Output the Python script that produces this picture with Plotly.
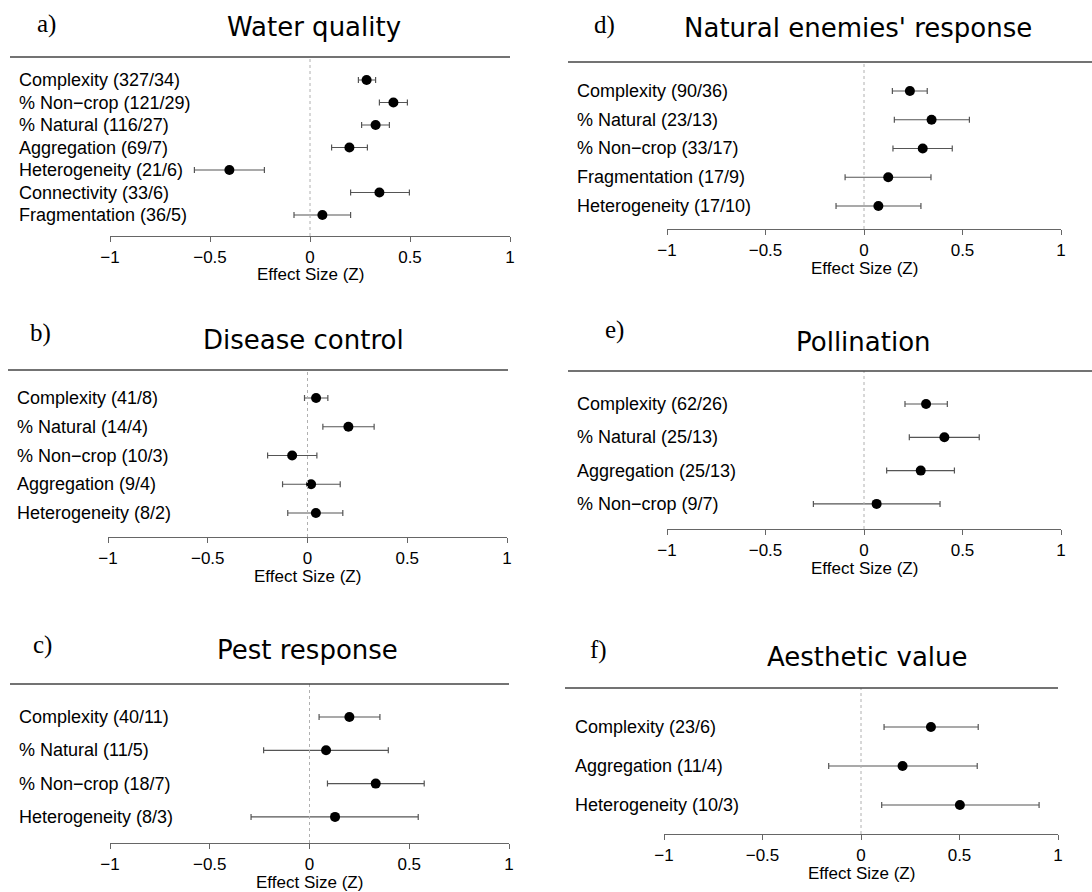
import plotly.graph_objects as go

# ---------------- data ----------------
water_labels = ["Complexity (327/34)", "% Non\u2212crop (121/29)", "% Natural (116/27)",
                "Aggregation (69/7)", "Heterogeneity (21/6)", "Connectivity (33/6)",
                "Fragmentation (36/5)"]
water_est = [0.283, 0.417, 0.328, 0.197, -0.403, 0.347, 0.062]
water_lo = [0.242, 0.347, 0.258, 0.108, -0.578, 0.203, -0.080]
water_hi = [0.328, 0.487, 0.397, 0.287, -0.228, 0.497, 0.203]

disease_labels = ["Complexity (41/8)", "% Natural (14/4)", "% Non\u2212crop (10/3)",
                  "Aggregation (9/4)", "Heterogeneity (8/2)"]
disease_est = [0.043, 0.205, -0.077, 0.018, 0.042]
disease_lo = [-0.015, 0.077, -0.200, -0.125, -0.099]
disease_hi = [0.102, 0.334, 0.047, 0.164, 0.177]

pest_labels = ["Complexity (40/11)", "% Natural (11/5)", "% Non\u2212crop (18/7)",
               "Heterogeneity (8/3)"]
pest_est = [0.200, 0.083, 0.332, 0.128]
pest_lo = [0.048, -0.230, 0.090, -0.293]
pest_hi = [0.353, 0.395, 0.575, 0.545]

enemies_labels = ["Complexity (90/36)", "% Natural (23/13)", "% Non\u2212crop (33/17)",
                  "Fragmentation (17/9)", "Heterogeneity (17/10)"]
enemies_est = [0.233, 0.343, 0.298, 0.123, 0.073]
enemies_lo = [0.144, 0.154, 0.147, -0.096, -0.142]
enemies_hi = [0.321, 0.535, 0.448, 0.340, 0.289]

pollination_labels = ["Complexity (62/26)", "% Natural (25/13)", "Aggregation (25/13)",
                      "% Non\u2212crop (9/7)"]
pollination_est = [0.315, 0.408, 0.288, 0.064]
pollination_lo = [0.208, 0.230, 0.115, -0.257]
pollination_hi = [0.423, 0.585, 0.459, 0.386]

aesthetic_labels = ["Complexity (23/6)", "Aggregation (11/4)", "Heterogeneity (10/3)"]
aesthetic_est = [0.355, 0.211, 0.502]
aesthetic_lo = [0.117, -0.164, 0.105]
aesthetic_hi = [0.595, 0.590, 0.904]

panel_titles = ["Water quality", "Disease control", "Pest response",
                "Natural enemies' response", "Pollination", "Aesthetic value"]
panel_letters = ["a)", "b)", "c)", "d)", "e)", "f)"]
tick_values = [-1, -0.5, 0, 0.5, 1]
tick_labels = ["\u22121", "\u22120.5", "0", "0.5", "1"]
axis_title = "Effect Size (Z)"

# ---------------- layout geometry (pixels) ----------------
W, H = 1092, 892
# xm1, xp1, top line y, axis line y, first row y, row step, line x0, line x1,
# title cx, title cy, letter x, letter cy, label x
geom = [
    (110, 510, 57, 236, 80, 22.5, 10, 510, 314, 27, 35, 24, 17),
    (108, 507, 370, 537, 398, 28.75, 8, 508, 303, 340, 28, 333, 15),
    (110, 509, 684, 843, 717, 33.3, 10, 509, 307, 650, 31, 645, 17),
    (667, 1061, 62, 229, 91, 28.75, 568, 1092, 858, 28, 592, 25, 575),
    (667, 1061, 371, 529, 404, 33.3, 568, 1092, 863, 342, 603, 330, 575),
    (664, 1058, 688, 834, 727, 39.0, 565, 1058, 867, 657, 588, 650, 573),
]

panels = [
    (water_labels, water_est, water_lo, water_hi),
    (disease_labels, disease_est, disease_lo, disease_hi),
    (pest_labels, pest_est, pest_lo, pest_hi),
    (enemies_labels, enemies_est, enemies_lo, enemies_hi),
    (pollination_labels, pollination_est, pollination_lo, pollination_hi),
    (aesthetic_labels, aesthetic_est, aesthetic_lo, aesthetic_hi),
]

LABEL_FONT = dict(family="Liberation Sans, Arial, Helvetica, sans-serif", size=18, color="black")
TICK_FONT = dict(family="Liberation Sans, Arial, Helvetica, sans-serif", size=17, color="black")
TITLE_FONT = dict(family="DejaVu Sans, Verdana, sans-serif", size=26, color="black")
LETTER_FONT = dict(family="Liberation Serif, Times New Roman, serif", size=25, color="black")
AXIS_GREY = "#666666"

fig = go.Figure()
annotations = []
shapes = []

def px_x(p):
    return p / W

def px_y(p):
    return 1 - p / H

for k, ((labels, est, lo, hi), g) in enumerate(zip(panels, geom)):
    xm1, xp1, top, axis, row0, step, lx0, lx1, tcx, tcy, ltx, lty, labx = g
    n = k + 1
    xa = "x" if n == 1 else f"x{n}"
    ya = "y" if n == 1 else f"y{n}"
    rows = list(range(len(labels)))
    plus = [h - e for h, e in zip(hi, est)]
    minus = [e - l for e, l in zip(est, lo)]
    fig.add_trace(go.Scatter(
        x=est, y=rows, mode="markers", xaxis=xa, yaxis=ya,
        marker=dict(color="black", size=10),
        error_x=dict(type="data", symmetric=False, array=plus, arrayminus=minus,
                     color="#555555", thickness=1.2, width=3),
        showlegend=False, hoverinfo="skip", cliponaxis=False,
    ))
    xkey = "xaxis" if n == 1 else f"xaxis{n}"
    ykey = "yaxis" if n == 1 else f"yaxis{n}"
    fig.update_layout(**{
        xkey: dict(domain=[px_x(xm1), px_x(xp1)], range=[-1, 1], anchor=ya,
                   showline=True, linecolor=AXIS_GREY, linewidth=1.2,
                   ticks="outside", ticklen=5, tickcolor=AXIS_GREY, tickwidth=1.2,
                   tickvals=tick_values, ticktext=tick_labels,
                   tickfont=TICK_FONT, ticklabelstandoff=0, automargin=False,
                   showgrid=False, zeroline=False, fixedrange=True),
        ykey: dict(domain=[px_y(axis), px_y(top)], anchor=xa,
                   range=[(axis - row0) / step, -(row0 - top) / step],
                   visible=False, showgrid=False, zeroline=False, fixedrange=True,
                   automargin=False),
    })
    # zero reference line
    shapes.append(dict(type="line", xref=xa, yref=f"{ya} domain", x0=0, x1=0, y0=0, y1=1,
                       line=dict(color="#b0b0b0", width=1, dash="dot")))
    # top rule
    shapes.append(dict(type="line", xref="paper", yref="paper",
                       x0=px_x(lx0), x1=px_x(lx1), y0=px_y(top), y1=px_y(top),
                       line=dict(color="#444444", width=1.5)))
    # row labels
    for i, lab in enumerate(labels):
        annotations.append(dict(text=lab, xref="paper", yref=ya, x=px_x(labx), y=i,
                                xanchor="left", yanchor="middle", showarrow=False,
                                font=LABEL_FONT))
    # title
    annotations.append(dict(text=panel_titles[k], xref="paper", yref="paper",
                            x=px_x(tcx), y=px_y(tcy), xanchor="center", yanchor="middle",
                            showarrow=False, font=TITLE_FONT))
    # panel letter
    annotations.append(dict(text=panel_letters[k], xref="paper", yref="paper",
                            x=px_x(ltx), y=px_y(lty), xanchor="left", yanchor="middle",
                            showarrow=False, font=LETTER_FONT))
    # axis title
    annotations.append(dict(text=axis_title, xref="paper", yref="paper",
                            x=px_x((xm1 + xp1) / 2), y=px_y(axis + 39),
                            xanchor="center", yanchor="middle", showarrow=False,
                            font=TICK_FONT))

fig.update_layout(
    width=W, height=H, margin=dict(l=0, r=0, t=0, b=0, pad=0, autoexpand=False),
    autosize=False,
    paper_bgcolor="white", plot_bgcolor="white",
    annotations=annotations, shapes=shapes,
)

fig.write_html(
    "out.html",
    config={"displayModeBar": False, "responsive": False},
    default_width="1092px", default_height="892px",
    post_script="document.body.style.margin='0';document.body.style.padding='0';"
                "document.body.style.overflow='hidden';",
)
